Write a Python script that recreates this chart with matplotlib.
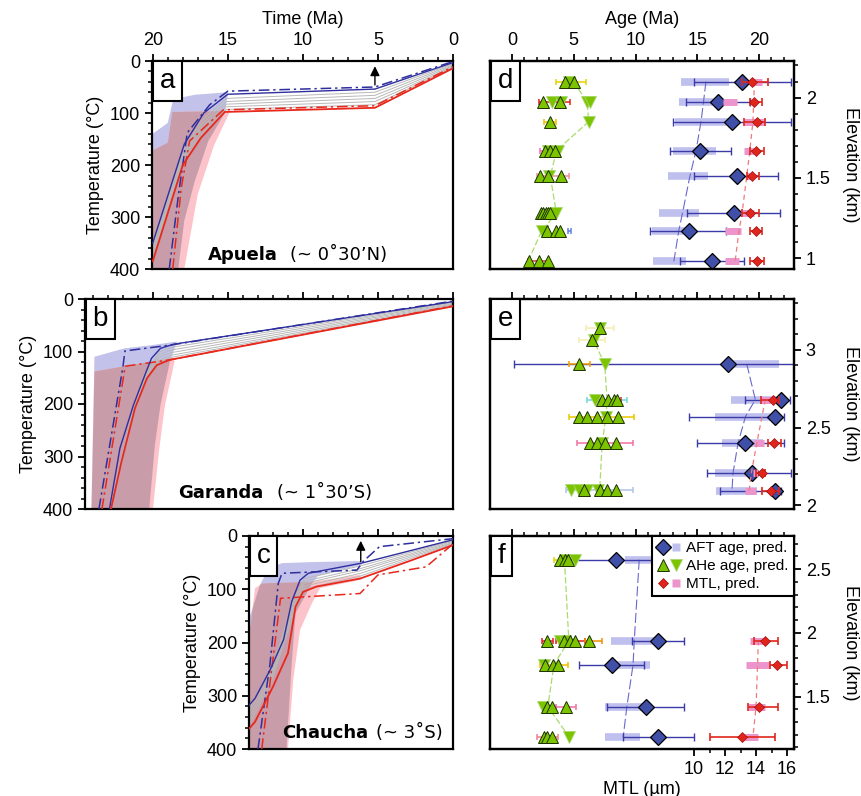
import numpy as np
import matplotlib
matplotlib.use("Agg")
import matplotlib.pyplot as plt
from matplotlib.lines import Line2D
from matplotlib.legend_handler import HandlerTuple
from matplotlib.ticker import MultipleLocator, FixedLocator, FuncFormatter

plt.rcParams['font.family'] = ['Liberation Sans', 'DejaVu Sans']
plt.rcParams['font.size'] = 13

# ---------------- thermal histories (time Ma, temperature degC) ----------------
# a - Apuela
a_blue_t = [20, 17.9, 16.6, 15.0, 5.2, 0]
a_blue_T = [350, 160, 100, 64, 54, 3]
a_red_t = [20, 18.0, 16.8, 15.2, 5.2, 0]
a_red_T = [385, 200, 148, 98, 90, 14]
a_bluedd_t = [18.9, 18.3, 17.7, 16.2, 15.0, 5.2, 0]
a_bluedd_T = [400, 260, 138, 84, 58, 50, 1]
a_reddd_t = [18.67, 18.1, 17.55, 15.3, 5.2, 0]
a_reddd_T = [400, 244, 154, 94, 86, 11]
a_gray_t = [20, 18.0, 16.8, 15.1, 5.2, 0]
a_gray_T = [[356, 175, 116, 72, 60, 5], [362, 180, 123, 78, 66, 7],
            [368, 185, 129, 83, 72, 9], [374, 190, 135, 88, 78, 11],
            [380, 195, 142, 93, 84, 12.5]]
a_env_blue_t = [20.0, 19.0, 18.67, 18.4, 17.2, 15.0, 15.0, 15.2, 16.3, 17.2, 17.9, 18.3, 20.0]
a_env_blue_T = [140, 119, 78, 72, 65, 60, 64, 100, 154, 231, 307, 400, 400]
a_env_red_t = [20.0, 19.0, 18.7, 15.0, 14.9, 15.9, 17.0, 17.9, 20.0]
a_env_red_T = [172, 157, 98, 96, 100, 161, 256, 400, 400]
a_arrow = (5.2, 46, 10)

# b - Garanda
b_blue_t = [22.9, 22.2, 21.3, 20.5, 20.1, 19.5, 18.6, 0]
b_blue_T = [400, 284, 202, 142, 113, 94, 86, 5]
b_red_t = [22.8, 22.1, 21.2, 20.4, 19.75, 18.9, 0]
b_red_T = [400, 310, 208, 151, 126, 116, 14]
b_bluedd_t = [23.6, 22.0, 21.87, 18.9, 0]
b_bluedd_T = [400, 129, 99, 88, 4]
b_reddd_t = [23.4, 21.85, 18.9, 0]
b_reddd_T = [400, 128, 116, 13]
b_gray_t = [22.8, 21.25, 20.45, 19.6, 18.75, 0]
b_gray_T = [[386, 202, 142, 101, 92, 6.5], [389, 204, 145, 106, 97, 8],
            [392, 206, 148, 111, 102, 9.5], [395, 208, 151, 116, 107, 11],
            [398, 210, 153, 120, 111, 12.5]]
b_env_blue_t = [24.1, 23.9, 21.9, 20.1, 18.4, 18.5, 18.87, 19.5, 19.87, 20.25, 24.1]
b_env_blue_T = [400, 110, 94, 88, 81, 90, 119, 202, 278, 400, 400]
b_env_red_t = [24.1, 23.9, 21.9, 18.75, 18.55, 19.2, 19.6, 20.0, 24.1]
b_env_red_T = [400, 138, 128, 113, 118, 202, 290, 400, 400]

# c - Chaucha
c_blue_t = [13.6, 13.2, 12.2, 11.3, 10.75, 10.2, 9.65, 6.1, 0]
c_blue_T = [318, 305, 252, 195, 123, 83, 70, 51, 7]
c_red_t = [13.6, 13.2, 12.0, 11.0, 10.5, 10.0, 9.1, 6.2, 3.0, 0]
c_red_T = [362, 349, 283, 220, 133, 105, 95, 80, 48, 17]
c_bluedd_t = [13.0, 12.2, 11.65, 11.4, 6.4, 6.0, 4.9, 0]
c_bluedd_T = [400, 240, 89, 70, 64, 48, 20, 5]
c_reddd_t = [12.75, 11.5, 6.2, 5.0, 1.8, 0]
c_reddd_T = [400, 117, 108, 73, 58, 15]
c_gray_t = [13.6, 12.1, 10.6, 9.9, 6.15, 0]
c_gray_T = [[325, 251, 118, 80, 56, 8.5], [332, 256, 124, 85, 61, 10],
            [340, 262, 131, 89, 65, 12], [347, 267, 137, 94, 70, 13.5],
            [355, 273, 144, 99, 75, 15]]
c_env_blue_t = [14, 13.5, 12.87, 12.3, 11.4, 9.4, 6.1, 6.1, 9.0, 9.4, 10.5, 10.75, 11.1, 14]
c_env_blue_T = [148, 148, 92, 61, 51, 49, 47, 54, 75, 89, 145, 239, 400, 400]
c_env_red_t = [14, 13.5, 13.2, 12.7, 9.4, 6.2, 6.1, 8.87, 9.4, 10.2, 10.65, 11.0, 14]
c_env_red_T = [170, 170, 98, 89, 86, 73, 82, 98, 126, 177, 270, 400, 400]
c_arrow = (6.15, 48, 9)

# ---------------- age-elevation panels ----------------
# d
d_aft_elev = [2.10, 1.97, 1.85, 1.67, 1.51, 1.28, 1.17, 0.98]
d_aft_age = [18.6, 16.7, 17.8, 15.2, 18.2, 18.0, 14.3, 16.2]
d_aft_lo = [14.7, 14.1, 13.0, 12.8, 14.7, 14.2, 11.2, 13.6]
d_aft_hi = [22.6, 19.3, 22.6, 17.7, 21.5, 21.7, 17.3, 18.8]
d_aft_plo = [13.7, 13.5, 13.2, 13.0, 12.6, 11.9, 11.3, 11.4]
d_aft_phi = [17.6, 17.0, 17.6, 16.5, 15.9, 15.1, 14.1, 14.1]
d_aft_pred = [15.7, 15.5, 15.3, 14.9, 14.4, 13.8, 13.5, 13.1]
d_mtl_elev = [2.10, 1.97, 1.85, 1.67, 1.51, 1.28, 1.17, 0.98]
d_mtl = [13.72, 13.9, 14.05, 14.0, 13.76, 13.6, 14.0, 14.05]
d_mtl_lo = [13.1, 13.6, 13.2, 13.6, 13.4, 13.1, 13.6, 13.6]
d_mtl_hi = [14.8, 14.4, 14.6, 14.5, 14.2, 14.2, 14.4, 14.5]
d_mtl_plo = [13.6, 11.9, 13.2, 13.2, 13.35, 13.1, 12.0, 12.0]
d_mtl_phi = [14.4, 12.75, 14.6, 14.0, 13.8, 13.9, 13.0, 12.9]
d_mtl_pred = [13.9, 13.85, 13.8, 13.6, 13.4, 13.1, 12.9, 12.65]
d_ahe_elev = [2.10, 1.97, 1.85, 1.67, 1.51, 1.28, 1.17, 0.98]
d_ahe_obs = [[4.3, 5.0], [2.5, 3.9], [3.1], [2.7, 3.1, 3.5], [2.3, 2.9, 4.0],
             [2.35, 2.55, 2.75, 2.95, 3.1], [2.8, 3.6, 3.9], [1.4, 2.2, 2.9]]
d_ahe_down = [[4.6], [3.2, 4.0, 6.05, 6.3], [6.2], [2.9, 3.7], [3.0], [3.6], [2.4], []]
d_ahe_pred = [5.0, 6.1, 6.2, 3.6, 3.1, 3.6, 2.4, 1.3]
d_bar_elev = [2.10, 1.97, 1.85, 1.67, 1.51, 1.17, 0.98]
d_bar_lo = [3.6, 2.2, 2.6, 2.3, 2.0, 4.5, 1.3]
d_bar_hi = [6.0, 4.7, 3.6, 3.9, 4.6, 4.8, 3.0]
d_bar_col = ['#e8d000', '#e02020', '#f0c000', '#f070b0', '#f090a0', '#6080e0', '#e04040']

# e
e_aft_elev = [2.91, 2.68, 2.57, 2.40, 2.21, 2.09]
e_aft_age = [17.5, 21.8, 21.3, 18.9, 19.4, 21.3]
e_aft_lo = [0.15, 18.9, 14.3, 15.0, 15.8, 16.8]
e_aft_hi = [23.5, 22.5, 22.0, 22.0, 22.6, 21.8]
e_aft_plo = [17.5, 17.7, 16.4, 17.0, 16.4, 16.5]
e_aft_phi = [21.6, 21.4, 20.9, 20.3, 19.5, 19.8]
e_aft_pred = [19.0, 19.7, 18.9, 18.3, 17.9, 17.8]
e_mtl_elev = [2.68, 2.40, 2.21, 2.09]
e_mtl = [15.08, 15.16, 14.37, 14.95]
e_mtl_lo = [14.3, 14.8, 13.97, 14.4]
e_mtl_hi = [15.5, 15.6, 14.6, 15.5]
e_mtl_plo = [14.3, 13.9, 13.8, 13.3]
e_mtl_phi = [14.9, 14.5, 14.1, 14.0]
e_mtl_pred = [14.6, 14.05, 13.7, 13.55]
e_ahe_elev = [3.14, 3.06, 2.91, 2.68, 2.57, 2.40, 2.10]
e_ahe_obs = [[7.1], [6.45], [5.4], [7.3, 7.8, 8.25, 8.5], [5.45, 6.1, 6.9, 7.7, 8.55],
             [6.3, 6.9, 7.5, 8.4], [5.85, 7.1, 7.7, 8.4]]
e_ahe_down = [[7.1], [6.6], [7.5], [6.7], [7.6], [7.3], [4.8, 5.45, 6.05, 7.0]]
e_ahe_pred = [7.1, 6.6, 7.5, 7.7, 7.6, 7.3, 7.1]
e_bar_elev = [3.14, 3.06, 2.91, 2.68, 2.68, 2.57, 2.40, 2.10]
e_bar_lo = [6.0, 5.4, 4.6, 6.1, 7.0, 4.6, 5.3, 4.4]
e_bar_hi = [8.26, 7.5, 6.3, 9.3, 8.8, 9.9, 9.8, 9.8]
e_bar_col = ['#f5eeb0', '#f5eeb0', '#f0a000', '#70d8d8', '#e03030', '#e8c800', '#f070a0', '#b0c4e8']

# f
f_aft_elev = [2.575, 1.94, 1.75, 1.42, 1.18]
f_aft_age = [8.4, 11.8, 8.07, 10.85, 11.8]
f_aft_lo = [4.8, 9.7, 5.45, 7.7, 9.0]
f_aft_hi = [13.5, 13.9, 10.7, 13.9, 14.7]
f_aft_plo = [9.15, 8.0, 8.3, 7.5, 7.5]
f_aft_phi = [11.6, 11.7, 11.2, 10.5, 10.4]
f_aft_pred = [10.3, 9.9, 9.8, 9.3, 9.0]
f_mtl_elev = [1.94, 1.75, 1.42, 1.18]
f_mtl = [14.58, 15.37, 14.2, 13.12]
f_mtl_lo = [13.9, 14.9, 13.5, 11.0]
f_mtl_hi = [15.4, 16.0, 15.4, 15.2]
f_mtl_plo = [13.6, 13.35, 13.5, 13.0]
f_mtl_phi = [14.6, 14.9, 14.6, 14.15]
f_mtl_pred = [14.15, 14.1, 14.0, 13.8]
f_ahe_elev = [2.575, 1.94, 1.75, 1.42, 1.18]
f_ahe_obs = [[3.9, 4.3, 4.56], [2.86, 4.2, 4.7, 5.1, 6.26], [2.67, 3.35, 3.75],
             [2.8, 3.2, 4.4], [2.6, 2.8, 3.2]]
f_ahe_down = [[4.3, 5.1], [3.9, 4.3], [2.6], [2.5], [4.65]]
f_ahe_pred = [4.25, 4.6, 3.4, 2.9, 4.65]
f_bar_elev = [2.575, 1.94, 1.94, 1.94, 1.75, 1.42, 1.18]
f_bar_lo = [3.4, 2.4, 3.6, 5.9, 2.27, 3.6, 2.0]
f_bar_hi = [3.9, 3.35, 5.9, 7.3, 4.5, 5.2, 3.75]
f_bar_col = ['#d8d800', '#e02020', '#e02020', '#f09000', '#f0c000', '#f070a0', '#f08090']

# ---------------- styling ----------------
BLUE = '#2e2e9e'
RED = '#e8281c'
LAV = '#c2c2ea'
PINK = '#fcc4ca'
MAUVE = '#c89ca8'
GRAY = '#b8b8b8'
DIAMOND = '#4050a8'
AFT_ERR = '#3a3aa8'
LAVBAR = '#c0c0ee'
PINKBAR = '#ec94cc'
MTL_RED = '#e0261c'
GREEN = '#7cc400'
DASHDOT = (0, (7, 2.5, 1.5, 2.5))

W, H = 862, 796


def rect(l, t, r, b):
    return [l / W, 1 - b / H, (r - l) / W, (b - t) / H]


def frame(ax):
    for s in ax.spines.values():
        s.set_linewidth(1.6)
    ax.tick_params(which='major', direction='out', length=5, width=1.3)
    ax.tick_params(which='minor', direction='out', length=3, width=1.1)


def panel_letter(ax, letter):
    ax.annotate(letter, xy=(0, 1), xycoords='axes fraction', xytext=(5.5, -5),
                textcoords='offset points', ha='left', va='top', fontsize=20,
                zorder=20, bbox=dict(boxstyle='square,pad=0.25', fc='white', ec='k', lw=1.5))


def draw_tT(ax, env_b, env_r, gray_t, gray_T, blue, red, bluedd, reddd, tmax,
            letter, site, coord, xs, arrow=None, top_labels=False):
    ax.fill(env_b[0], env_b[1], color=LAV, lw=0, zorder=1)
    pr = ax.fill(env_r[0], env_r[1], color=PINK, lw=0, zorder=1)[0]
    pm = ax.fill(env_b[0], env_b[1], color=MAUVE, lw=0, zorder=1.5)[0]
    pm.set_clip_path(pr)
    for g in gray_T:
        ax.plot(gray_t, g, color=GRAY, lw=0.7, zorder=2)
    ax.plot(bluedd[0], bluedd[1], color=BLUE, lw=1.1, ls=DASHDOT, zorder=3)
    ax.plot(reddd[0], reddd[1], color=RED, lw=1.1, ls=DASHDOT, zorder=3)
    ax.plot(blue[0], blue[1], color=BLUE, lw=1.0, zorder=4)
    ax.plot(red[0], red[1], color=RED, lw=1.3, zorder=4)
    if arrow is not None:
        ax.annotate('', xy=(arrow[0], arrow[2]), xytext=(arrow[0], arrow[1]),
                    arrowprops=dict(arrowstyle='-|>', color='k', lw=1.0,
                                    mutation_scale=14, shrinkA=0, shrinkB=0))
    ax.set_xlim(tmax, 0)
    ax.set_ylim(400, 0)
    ax.xaxis.tick_top()
    ax.xaxis.set_major_locator(MultipleLocator(5))
    ax.xaxis.set_minor_locator(MultipleLocator(1))
    ax.yaxis.set_major_locator(MultipleLocator(100))
    ax.yaxis.set_minor_locator(MultipleLocator(20))
    frame(ax)
    ax.tick_params(axis='x', labeltop=top_labels)
    if top_labels:
        ax.xaxis.set_label_position('top')
        ax.set_xlabel('Time (Ma)', labelpad=6)
    ax.set_ylabel('Temperature (°C)')
    panel_letter(ax, letter)
    ax.text(xs[0], xs[2], site, transform=ax.transAxes, ha='right', va='baseline',
            fontweight='bold', fontsize=13, family='DejaVu Sans', zorder=10)
    ax.text(xs[1], xs[2], coord, transform=ax.transAxes, ha='left', va='baseline',
            fontsize=13, family='DejaVu Sans', zorder=10)


def draw_ages(ax, aft, mtl, ahe, bars, ylim, letter, top_labels=False, bottom_mtl=False):
    ax2 = ax.twiny()
    el, age, lo, hi, plo, phi, pred = aft
    ax.hlines(el, plo, phi, color=LAVBAR, lw=5.5, zorder=1)
    ax.plot(pred, el, color='#6868cc', lw=0.8, ls=(0, (9, 3)), zorder=2)
    ax.errorbar(age, el, xerr=[np.subtract(age, lo), np.subtract(hi, age)], fmt='none',
                ecolor=AFT_ERR, elinewidth=1.0, capsize=3, capthick=1.0, zorder=3)
    ax.plot(age, el, 'D', ms=8, mfc=DIAMOND, mec='k', mew=0.9, zorder=6)

    hel, obs, down, hpred = ahe
    bel, blo, bhi, bcol = bars
    for y, a0, a1, c in zip(bel, blo, bhi, bcol):
        ax.errorbar((a0 + a1) / 2, y, xerr=(a1 - a0) / 2, fmt='none', ecolor=c,
                    elinewidth=1.1, capsize=2.5, capthick=1.1, zorder=3)
    ax.plot(hpred, hel, color='#a8dc70', lw=0.9, ls=(0, (5, 2)), zorder=4)
    for y, ds in zip(hel, down):
        ax.plot(ds, [y] * len(ds), 'v', ms=8, mfc=GREEN, mec='#a8d870', mew=0.6, zorder=5)
    for y, os_ in zip(hel, obs):
        ax.plot(os_, [y] * len(os_), '^', ms=8, mfc=GREEN, mec='#1c3000', mew=0.7, zorder=5)

    mel, m, mlo, mhi, mplo, mphi, mpred = mtl
    ax2.hlines(mel, mplo, mphi, color=PINKBAR, lw=5, zorder=1)
    ax2.plot(mpred, mel, color='#f07a7a', lw=0.9, ls=(0, (4, 3)), zorder=2)
    ax2.errorbar(m, mel, xerr=[np.subtract(m, mlo), np.subtract(mhi, m)], fmt='none',
                 ecolor=MTL_RED, elinewidth=1.2, capsize=3, capthick=1.2, zorder=3)
    ax2.plot(m, mel, 'D', ms=5.5, mfc=MTL_RED, mec='#a01010', mew=0.5, zorder=4)

    ax.set_xlim(-1.78, 22.83)
    ax.set_ylim(*ylim)
    ax2.set_xlim(-3.16, 16.45)
    ax.xaxis.tick_top()
    ax.xaxis.set_major_locator(FixedLocator([0, 5, 10, 15, 20]))
    ax.xaxis.set_minor_locator(FixedLocator(range(0, 23)))
    ax.yaxis.tick_right()
    ax.yaxis.set_label_position('right')
    ax.yaxis.set_major_locator(MultipleLocator(0.5))
    ax.yaxis.set_minor_locator(MultipleLocator(0.1))
    ax.yaxis.set_major_formatter(FuncFormatter(lambda v, p: '%g' % v))
    frame(ax)
    frame(ax2)
    ax.tick_params(axis='x', labeltop=top_labels, labelbottom=False, bottom=False)
    if top_labels:
        ax.xaxis.set_label_position('top')
        ax.set_xlabel('Age (Ma)', labelpad=6)
    ax.set_ylabel('Elevation (km)', rotation=270, va='bottom', labelpad=8)
    if bottom_mtl:
        ax2.xaxis.set_ticks_position('bottom')
        ax2.xaxis.set_label_position('bottom')
        ax2.xaxis.set_major_locator(FixedLocator([10, 12, 14, 16]))
        ax2.xaxis.set_minor_locator(FixedLocator(range(10, 17)))
        ax2.set_xlabel('MTL (µm)', labelpad=2)
    else:
        ax2.set_xticks([])
        ax2.set_xticks([], minor=True)
    panel_letter(ax2, letter)
    return ax2


fig = plt.figure(figsize=(8.62, 7.96), dpi=100)
ax_a = fig.add_axes(rect(152, 61, 453, 269))
ax_b = fig.add_axes(rect(85, 299, 453, 509))
ax_c = fig.add_axes(rect(249, 536, 453, 749))
ax_d = fig.add_axes(rect(490, 61, 794, 269))
ax_e = fig.add_axes(rect(490, 299, 794, 509))
ax_f = fig.add_axes(rect(490, 536, 794, 749))

draw_tT(ax_a, (a_env_blue_t, a_env_blue_T), (a_env_red_t, a_env_red_T), a_gray_t, a_gray_T,
        (a_blue_t, a_blue_T), (a_red_t, a_red_T), (a_bluedd_t, a_bluedd_T),
        (a_reddd_t, a_reddd_T), 20.05, 'a', 'Apuela', '(~ 0˚30’N)',
        (0.419, 0.458, 0.045), arrow=a_arrow, top_labels=True)
draw_tT(ax_b, (b_env_blue_t, b_env_blue_T), (b_env_red_t, b_env_red_T), b_gray_t, b_gray_T,
        (b_blue_t, b_blue_T), (b_red_t, b_red_T), (b_bluedd_t, b_bluedd_T),
        (b_reddd_t, b_reddd_T), 24.53, 'b', 'Garanda', '(~ 1˚30’S)',
        (0.4845, 0.521, 0.05))
draw_tT(ax_c, (c_env_blue_t, c_env_blue_T), (c_env_red_t, c_env_red_T), c_gray_t, c_gray_T,
        (c_blue_t, c_blue_T), (c_red_t, c_red_T), (c_bluedd_t, c_bluedd_T),
        (c_reddd_t, c_reddd_T), 13.6, 'c', 'Chaucha', '(~ 3˚S)',
        (0.585, 0.622, 0.05), arrow=c_arrow)

draw_ages(ax_d,
          (d_aft_elev, d_aft_age, d_aft_lo, d_aft_hi, d_aft_plo, d_aft_phi, d_aft_pred),
          (d_mtl_elev, d_mtl, d_mtl_lo, d_mtl_hi, d_mtl_plo, d_mtl_phi, d_mtl_pred),
          (d_ahe_elev, d_ahe_obs, d_ahe_down, d_ahe_pred),
          (d_bar_elev, d_bar_lo, d_bar_hi, d_bar_col), (0.933, 2.228), 'd', top_labels=True)
draw_ages(ax_e,
          (e_aft_elev, e_aft_age, e_aft_lo, e_aft_hi, e_aft_plo, e_aft_phi, e_aft_pred),
          (e_mtl_elev, e_mtl, e_mtl_lo, e_mtl_hi, e_mtl_plo, e_mtl_phi, e_mtl_pred),
          (e_ahe_elev, e_ahe_obs, e_ahe_down, e_ahe_pred),
          (e_bar_elev, e_bar_lo, e_bar_hi, e_bar_col), (1.977, 3.326), 'e')
ax_f2 = draw_ages(ax_f,
                  (f_aft_elev, f_aft_age, f_aft_lo, f_aft_hi, f_aft_plo, f_aft_phi, f_aft_pred),
                  (f_mtl_elev, f_mtl, f_mtl_lo, f_mtl_hi, f_mtl_plo, f_mtl_phi, f_mtl_pred),
                  (f_ahe_elev, f_ahe_obs, f_ahe_down, f_ahe_pred),
                  (f_bar_elev, f_bar_lo, f_bar_hi, f_bar_col), (1.088, 2.761), 'f',
                  bottom_mtl=True)

# legend in panel f
h_aft = (Line2D([], [], marker='D', ls='', ms=8, mfc=DIAMOND, mec='k', mew=0.9),
         Line2D([], [], marker='s', ls='', ms=6, mfc=LAVBAR, mec='none'))
h_ahe = (Line2D([], [], marker='^', ls='', ms=8, mfc=GREEN, mec='#1c3000', mew=0.7),
         Line2D([], [], marker='v', ls='', ms=8, mfc=GREEN, mec='#a8d870', mew=0.6))
h_mtl = (Line2D([], [], marker='D', ls='', ms=5.5, mfc=MTL_RED, mec='#a01010', mew=0.5),
         Line2D([], [], marker='s', ls='', ms=6, mfc=PINKBAR, mec='none'))
leg = ax_f2.legend([h_aft, h_ahe, h_mtl], ['AFT age, pred.', 'AHe age, pred.', 'MTL, pred.'],
                   handler_map={tuple: HandlerTuple(ndivide=None, pad=0.1)},
                   loc='upper right', borderaxespad=0, frameon=True, fancybox=False,
                   edgecolor='k', framealpha=1, handlelength=1.6, handletextpad=0.3,
                   borderpad=0.35, labelspacing=0.25, fontsize=11)
leg.get_frame().set_linewidth(1.5)
leg.set_zorder(30)

fig.savefig('out.png', dpi=100)
